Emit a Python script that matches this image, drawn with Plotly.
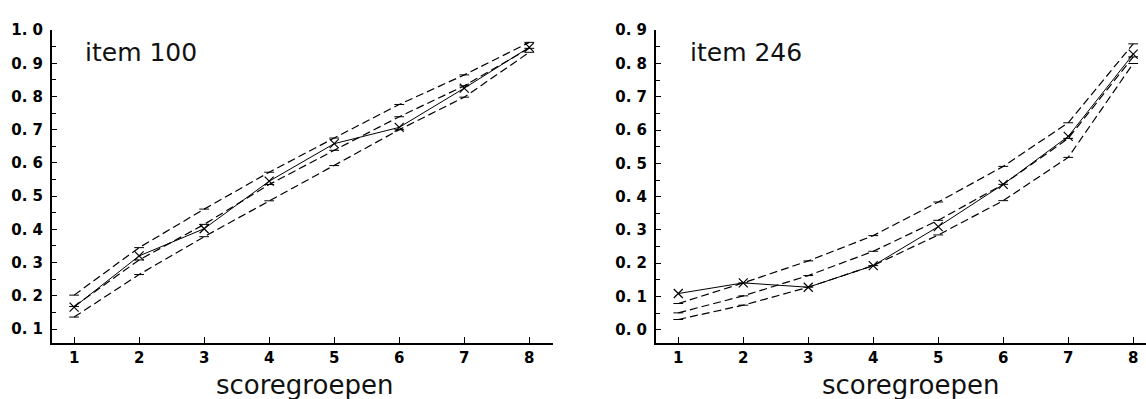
import plotly.graph_objects as go

groups = [1, 2, 3, 4, 5, 6, 7, 8]

# item 100
obs_100 = [0.166, 0.320, 0.402, 0.545, 0.658, 0.707, 0.825, 0.948]
exp_100 = [0.168, 0.308, 0.415, 0.535, 0.638, 0.739, 0.832, 0.945]
up_100 = [0.202, 0.345, 0.461, 0.572, 0.675, 0.776, 0.865, 0.963]
lo_100 = [0.136, 0.264, 0.378, 0.486, 0.592, 0.700, 0.798, 0.933]

# item 246
obs_246 = [0.109, 0.141, 0.128, 0.193, 0.310, 0.437, 0.581, 0.828]
exp_246 = [0.051, 0.102, 0.163, 0.236, 0.329, 0.437, 0.575, 0.820]
up_246 = [0.079, 0.141, 0.207, 0.283, 0.384, 0.491, 0.622, 0.859]
lo_246 = [0.031, 0.074, 0.128, 0.193, 0.285, 0.388, 0.518, 0.800]

yticks_100 = [0.1, 0.2, 0.3, 0.4, 0.5, 0.6, 0.7, 0.8, 0.9, 1.0]
ytext_100 = ["0. 1", "0. 2", "0. 3", "0. 4", "0. 5", "0. 6", "0. 7", "0. 8", "0. 9", "1. 0"]
yticks_246 = [0.0, 0.1, 0.2, 0.3, 0.4, 0.5, 0.6, 0.7, 0.8, 0.9]
ytext_246 = ["0. 0", "0. 1", "0. 2", "0. 3", "0. 4", "0. 5", "0. 6", "0. 7", "0. 8", "0. 9"]

panel_titles = ["item 100", "item 246"]
x_title = "scoregroepen"

fig = go.Figure()

def add_panel(xa, ya, obs, exp, up, lo):
    for series in (up, exp, lo):
        fig.add_trace(go.Scatter(
            x=groups, y=series, mode="lines+markers", xaxis=xa, yaxis=ya,
            line=dict(color="black", width=1.2, dash="8px,4px"),
            marker=dict(symbol="line-ew", size=7, line=dict(color="black", width=1)),
            showlegend=False, hoverinfo="skip"))
    fig.add_trace(go.Scatter(
        x=groups, y=obs, mode="lines+markers", xaxis=xa, yaxis=ya,
        line=dict(color="black", width=1),
        marker=dict(symbol="x-thin", size=9, line=dict(color="black", width=1.2)),
        showlegend=False))

add_panel("x", "y", obs_100, exp_100, up_100, lo_100)
add_panel("x2", "y2", obs_246, exp_246, up_246, lo_246)

W, H = 1146, 399
ydom = [(H - 342) / H, (H - 22) / H]
tickfont = dict(family="DejaVu Sans", size=15, color="black", weight="bold")

common_x = dict(showgrid=False, zeroline=False, showline=True, linecolor="black", linewidth=2,
                ticks="inside", ticklen=6, tickwidth=1, tickcolor="black",
                tickvals=groups, ticktext=[str(g) for g in groups], tickfont=tickfont,
                ticklabelstandoff=0)
common_y = dict(showgrid=False, zeroline=False, showline=True, linecolor="black", linewidth=2,
                ticks="inside", ticklen=5, tickwidth=1, tickcolor="black", tickfont=tickfont,
                ticklabelstandoff=4,
                minor=dict(ticks="inside", ticklen=4, tickwidth=1, tickcolor="black", dtick=0.05, showgrid=False))

fig.update_layout(
    width=W, height=H,
    margin=dict(l=0, r=0, t=0, b=0),
    paper_bgcolor="white", plot_bgcolor="white",
    xaxis=dict(domain=[52 / W, 552.7 / W], range=[0.66, 8.36], anchor="y", **common_x),
    yaxis=dict(domain=ydom, range=[0.0575, 1.0015], anchor="x",
               tickvals=yticks_100, ticktext=ytext_100, **common_y),
    xaxis2=dict(domain=[656 / W, 1.0], range=[0.657, 8.197], anchor="y2", **common_x),
    yaxis2=dict(domain=ydom, range=[-0.040, 0.902], anchor="x2",
                tickvals=yticks_246, ticktext=ytext_246, **common_y),
    annotations=[
        dict(text=panel_titles[0], xref="paper", yref="paper", x=83 / W, y=(H - 45) / H,
             xanchor="left", yanchor="middle", showarrow=False,
             font=dict(family="DejaVu Sans", size=25, color="#111")),
        dict(text=panel_titles[1], xref="paper", yref="paper", x=688 / W, y=(H - 45) / H,
             xanchor="left", yanchor="middle", showarrow=False,
             font=dict(family="DejaVu Sans", size=25, color="#111")),
        dict(text=x_title, xref="paper", yref="paper", x=304 / W, y=(H - 385) / H,
             xanchor="center", yanchor="middle", showarrow=False,
             font=dict(family="DejaVu Sans", size=26, color="#111")),
        dict(text=x_title, xref="paper", yref="paper", x=910 / W, y=(H - 385) / H,
             xanchor="center", yanchor="middle", showarrow=False,
             font=dict(family="DejaVu Sans", size=26, color="#111")),
    ],
)

fig.write_html("out.html")
